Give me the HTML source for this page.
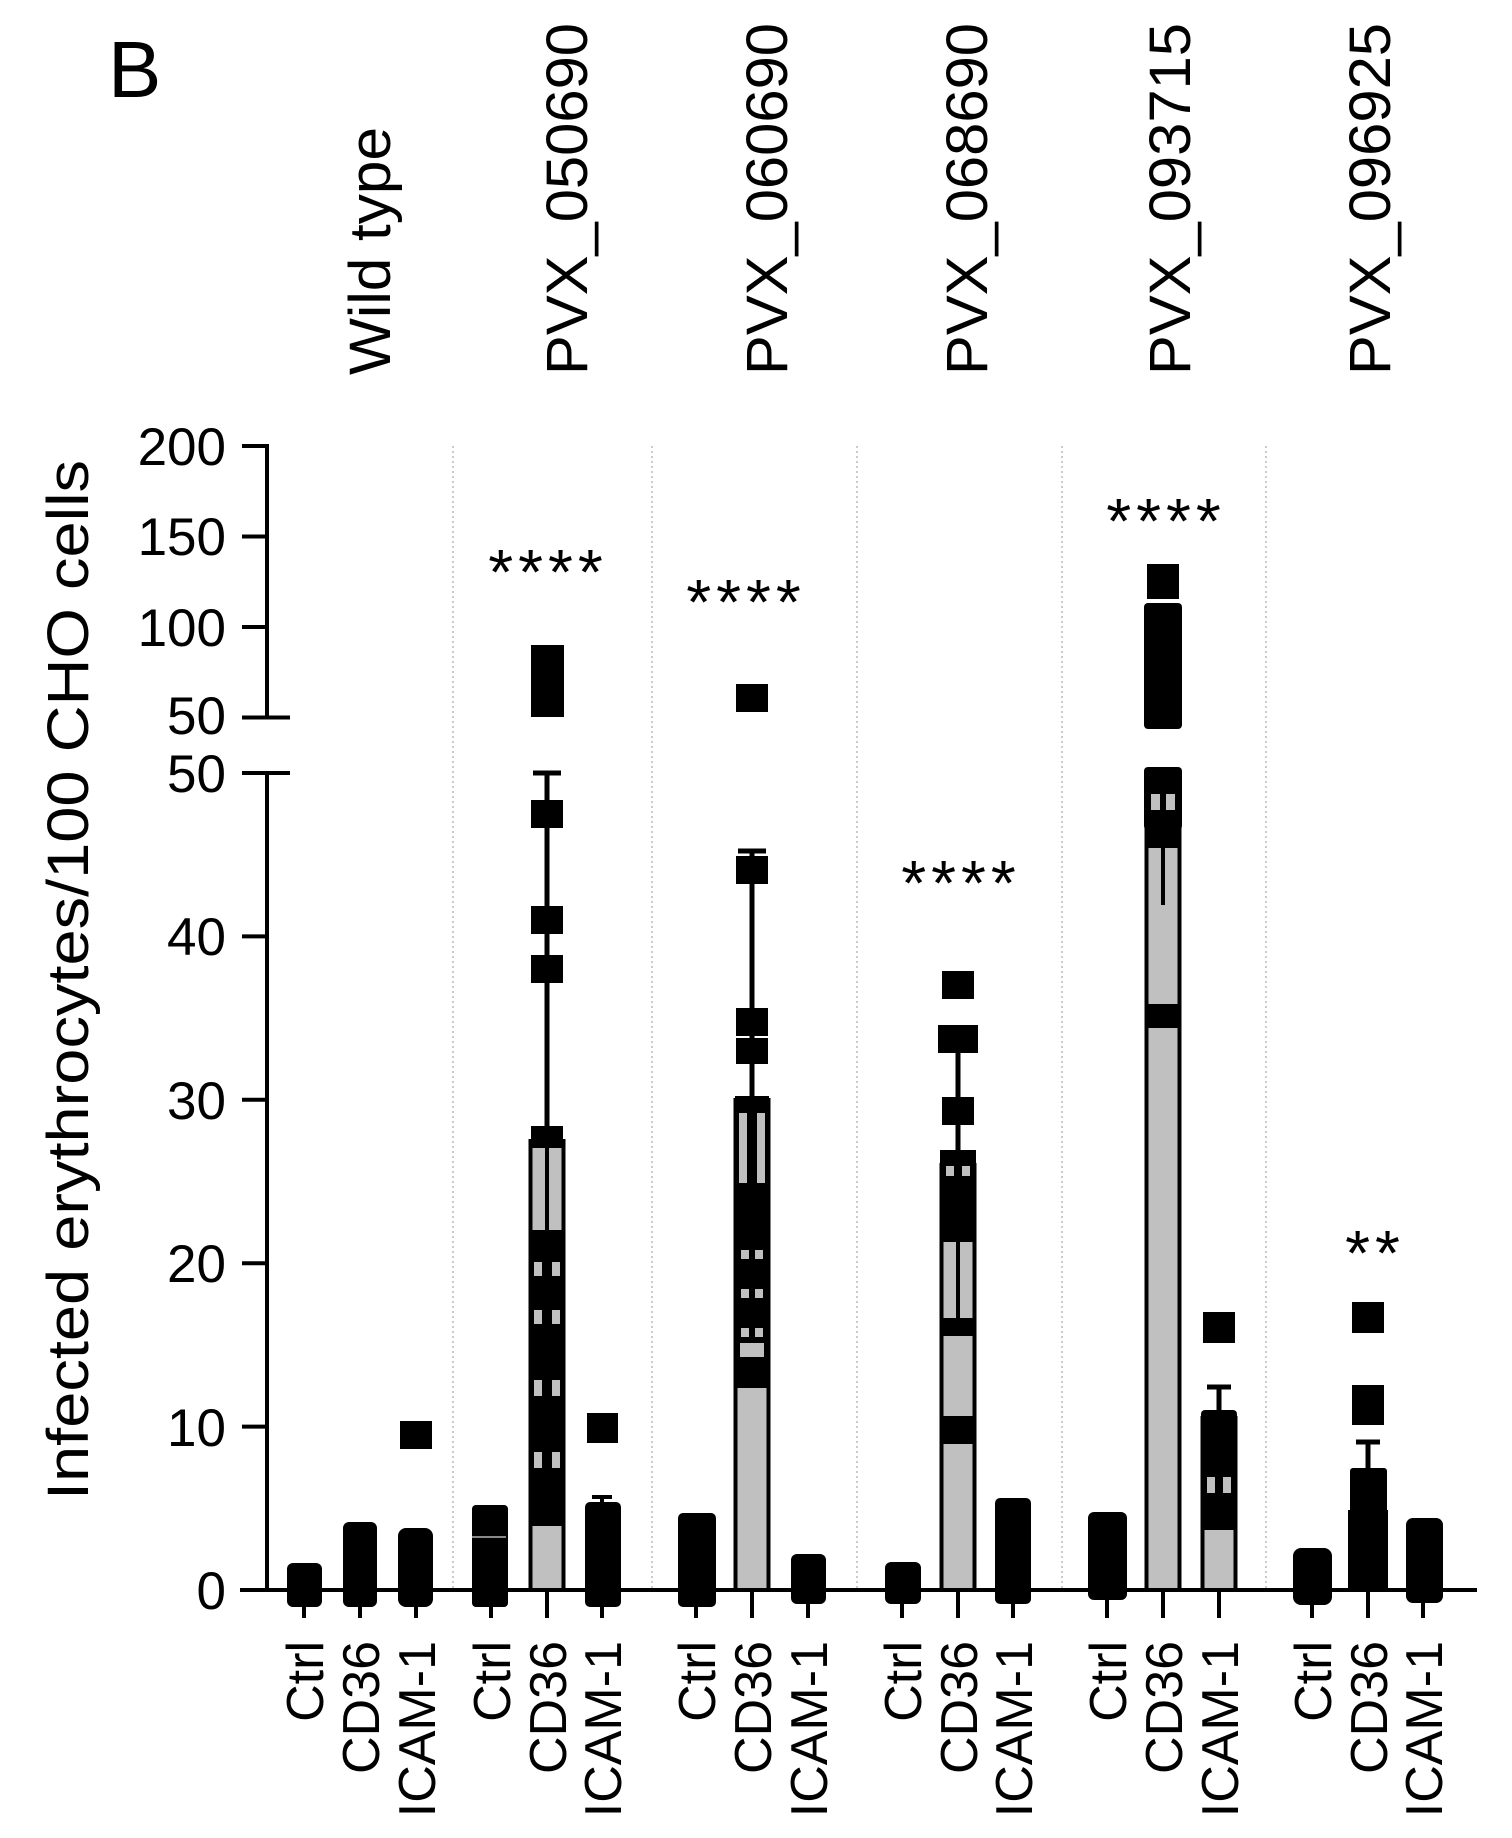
<!DOCTYPE html>
<html><head><meta charset="utf-8"><style>
html,body{margin:0;padding:0;background:#fff;}
svg{display:block;}
text{font-family:"Liberation Sans",Arial,sans-serif;fill:#000;}
</style></head><body>
<svg width="1512" height="1838" viewBox="0 0 1512 1838" xmlns="http://www.w3.org/2000/svg">
<text x="108" y="97" font-size="80">B</text>
<!-- top labels -->
<g font-size="58">
<text transform="translate(390,375) rotate(-90)" textLength="248" lengthAdjust="spacingAndGlyphs">Wild type</text>
<text transform="translate(587,375) rotate(-90)" textLength="352" lengthAdjust="spacingAndGlyphs">PVX_050690</text>
<text transform="translate(787,375) rotate(-90)" textLength="352" lengthAdjust="spacingAndGlyphs">PVX_060690</text>
<text transform="translate(987,375) rotate(-90)" textLength="352" lengthAdjust="spacingAndGlyphs">PVX_068690</text>
<text transform="translate(1190,375) rotate(-90)" textLength="352" lengthAdjust="spacingAndGlyphs">PVX_093715</text>
<text transform="translate(1390,375) rotate(-90)" textLength="352" lengthAdjust="spacingAndGlyphs">PVX_096925</text>
</g>
<!-- y title -->
<text transform="translate(88,1500) rotate(-90)" font-size="58" textLength="1040" lengthAdjust="spacingAndGlyphs">Infected erythrocytes/100 CHO cells</text>
<!-- dashed separators -->
<g stroke="#ccc" stroke-width="2" stroke-dasharray="2,3">
<line x1="453" y1="446" x2="453" y2="1588"/>
<line x1="652" y1="446" x2="652" y2="1588"/>
<line x1="857" y1="446" x2="857" y2="1588"/>
<line x1="1062" y1="446" x2="1062" y2="1588"/>
<line x1="1266" y1="446" x2="1266" y2="1588"/>
</g>
<!-- axes -->
<g stroke="#000" stroke-width="4" fill="none">
<line x1="267" y1="444" x2="267" y2="717.5"/>
<line x1="267" y1="773" x2="267" y2="1592"/>
<line x1="242" y1="446" x2="267" y2="446"/>
<line x1="242" y1="536.5" x2="267" y2="536.5"/>
<line x1="242" y1="627" x2="267" y2="627"/>
<line x1="242" y1="717.5" x2="290" y2="717.5"/>
<line x1="242" y1="773" x2="290" y2="773"/>
<line x1="242" y1="936.4" x2="267" y2="936.4"/>
<line x1="242" y1="1099.8" x2="267" y2="1099.8"/>
<line x1="242" y1="1263.2" x2="267" y2="1263.2"/>
<line x1="242" y1="1426.6" x2="267" y2="1426.6"/>
<line x1="240" y1="1590" x2="1477" y2="1590"/>
<g>
<line x1="304" y1="1590" x2="304" y2="1618"/><line x1="360" y1="1590" x2="360" y2="1618"/><line x1="416" y1="1590" x2="416" y2="1618"/>
<line x1="491" y1="1590" x2="491" y2="1618"/><line x1="547" y1="1590" x2="547" y2="1618"/><line x1="602" y1="1590" x2="602" y2="1618"/>
<line x1="696" y1="1590" x2="696" y2="1618"/><line x1="752" y1="1590" x2="752" y2="1618"/><line x1="808" y1="1590" x2="808" y2="1618"/>
<line x1="902" y1="1590" x2="902" y2="1618"/><line x1="958" y1="1590" x2="958" y2="1618"/><line x1="1013" y1="1590" x2="1013" y2="1618"/>
<line x1="1107" y1="1590" x2="1107" y2="1618"/><line x1="1163" y1="1590" x2="1163" y2="1618"/><line x1="1219" y1="1590" x2="1219" y2="1618"/>
<line x1="1312" y1="1590" x2="1312" y2="1618"/><line x1="1368" y1="1590" x2="1368" y2="1618"/><line x1="1423" y1="1590" x2="1423" y2="1618"/>
</g>
</g>
<!-- tick labels -->
<g font-size="53" text-anchor="end">
<text x="226" y="465">200</text><text x="226" y="555">150</text><text x="226" y="646">100</text>
<text x="226" y="734">50</text><text x="226" y="792">50</text>
<text x="226" y="955">40</text><text x="226" y="1119">30</text><text x="226" y="1282">20</text>
<text x="226" y="1446">10</text><text x="226" y="1609">0</text>
</g>
<!-- bottom labels -->
<g font-size="52" text-anchor="end">
<g id="bl">
<text transform="translate(323,1641) rotate(-90)">Ctrl</text>
<text transform="translate(379,1641) rotate(-90)">CD36</text>
<text transform="translate(435,1641) rotate(-90)">ICAM-1</text>
</g>
<text transform="translate(510,1641) rotate(-90)">Ctrl</text><text transform="translate(566,1641) rotate(-90)">CD36</text><text transform="translate(621,1641) rotate(-90)">ICAM-1</text>
<text transform="translate(715,1641) rotate(-90)">Ctrl</text><text transform="translate(771,1641) rotate(-90)">CD36</text><text transform="translate(827,1641) rotate(-90)">ICAM-1</text>
<text transform="translate(921,1641) rotate(-90)">Ctrl</text><text transform="translate(977,1641) rotate(-90)">CD36</text><text transform="translate(1032,1641) rotate(-90)">ICAM-1</text>
<text transform="translate(1126,1641) rotate(-90)">Ctrl</text><text transform="translate(1182,1641) rotate(-90)">CD36</text><text transform="translate(1238,1641) rotate(-90)">ICAM-1</text>
<text transform="translate(1331,1641) rotate(-90)">Ctrl</text><text transform="translate(1387,1641) rotate(-90)">CD36</text><text transform="translate(1442,1641) rotate(-90)">ICAM-1</text>
</g>
<!-- stars -->
<g font-size="64" text-anchor="middle" letter-spacing="5">
<text x="548" y="594">****</text>
<text x="746" y="624">****</text>
<text x="961" y="905">****</text>
<text x="1166" y="543">****</text>
<text x="1375" y="1275">**</text>
</g>
<!-- G1 -->
<g fill="#000">
<rect x="287" y="1563" width="35" height="44" rx="6"/>
<rect x="343" y="1522" width="34" height="85" rx="6"/>
<rect x="398" y="1528" width="35" height="79" rx="8"/>
<rect x="400" y="1421" width="32" height="28"/>
</g>
<!-- G2 -->
<g>
<rect x="472" y="1505" width="36" height="102" rx="4" fill="#000"/>
<line x1="472" y1="1537" x2="506" y2="1537" stroke="#888" stroke-width="2"/>
<line x1="547" y1="773" x2="547" y2="1141" stroke="#000" stroke-width="5"/>
<line x1="533" y1="773" x2="561" y2="773" stroke="#000" stroke-width="5"/>
<rect x="530.5" y="1141" width="33" height="449" fill="#c0c0c0" stroke="#000" stroke-width="4"/>
<rect x="531" y="1126" width="32" height="22" fill="#000"/>
<line x1="547" y1="1148" x2="547" y2="1232" stroke="#000" stroke-width="4"/>
<rect x="529" y="1230" width="36" height="296" fill="#000"/>
<g fill="#c0c0c0">
<rect x="534" y="1262" width="8" height="14"/><rect x="552" y="1262" width="8" height="14"/>
<rect x="534" y="1310" width="8" height="14"/><rect x="552" y="1310" width="8" height="14"/>
<rect x="534" y="1380" width="8" height="16"/><rect x="552" y="1380" width="8" height="16"/>
<rect x="534" y="1452" width="8" height="16"/><rect x="552" y="1452" width="8" height="16"/>
</g>
<rect x="531" y="645" width="33" height="72" fill="#000"/>
<rect x="531" y="800" width="32" height="28" fill="#000"/>
<rect x="531" y="906" width="32" height="28" fill="#000"/>
<rect x="531" y="955" width="32" height="28" fill="#000"/>
<line x1="602" y1="1497" x2="602" y2="1541" stroke="#000" stroke-width="4"/>
<line x1="592" y1="1497" x2="612" y2="1497" stroke="#000" stroke-width="4"/>
<rect x="585" y="1502" width="36" height="105" rx="5" fill="#000"/>
<rect x="587" y="1413" width="31" height="30" fill="#000"/>
</g>
<!-- G3 -->
<g>
<rect x="678" y="1513" width="38" height="94" rx="5" fill="#000"/>
<line x1="752" y1="851" x2="752" y2="1100" stroke="#000" stroke-width="5"/>
<line x1="738" y1="851" x2="766" y2="851" stroke="#000" stroke-width="5"/>
<rect x="735.5" y="1100" width="33" height="490" fill="#c0c0c0" stroke="#000" stroke-width="4"/>
<rect x="736" y="684" width="32" height="28" fill="#000"/>
<rect x="736" y="856" width="32" height="28" fill="#000"/>
<rect x="736" y="1008" width="32" height="28" fill="#000"/>
<rect x="736" y="1038" width="32" height="26" fill="#000"/>
<rect x="735" y="1096" width="34" height="292" fill="#000"/>
<g fill="#c0c0c0">
<rect x="739" y="1113" width="8" height="70"/><rect x="757" y="1113" width="8" height="70"/>
<rect x="741" y="1250" width="8" height="9"/><rect x="755" y="1250" width="8" height="9"/>
<rect x="741" y="1289" width="8" height="9"/><rect x="755" y="1289" width="8" height="9"/>
<rect x="741" y="1328" width="8" height="9"/><rect x="755" y="1328" width="8" height="9"/>
<rect x="740" y="1343" width="24" height="14"/>
</g>
<rect x="791" y="1554" width="35" height="50" rx="6" fill="#000"/>
</g>
<!-- G4 -->
<g>
<rect x="885" y="1562" width="36" height="42" rx="6" fill="#000"/>
<line x1="958" y1="1050" x2="958" y2="1165" stroke="#000" stroke-width="5"/>
<line x1="944" y1="1050" x2="972" y2="1050" stroke="#000" stroke-width="5"/>
<rect x="941.5" y="1165" width="33" height="425" fill="#c0c0c0" stroke="#000" stroke-width="4"/>
<rect x="942" y="971" width="32" height="28" fill="#000"/>
<rect x="938" y="1025" width="40" height="28" fill="#000"/>
<rect x="942" y="1097" width="32" height="28" fill="#000"/>
<rect x="940" y="1150" width="36" height="92" fill="#000"/>
<rect x="940" y="1318" width="36" height="18" fill="#000"/>
<rect x="940" y="1416" width="36" height="28" fill="#000"/>
<g fill="#c0c0c0"><rect x="946" y="1166" width="8" height="10"/><rect x="962" y="1166" width="8" height="10"/></g>
<line x1="958" y1="1242" x2="958" y2="1318" stroke="#000" stroke-width="4"/>
<rect x="995" y="1498" width="36" height="106" rx="5" fill="#000"/>
</g>
<!-- G5 -->
<g>
<rect x="1088" y="1512" width="39" height="88" rx="6" fill="#000"/>
<rect x="1146.5" y="771" width="33" height="819" fill="#c0c0c0" stroke="#000" stroke-width="4"/>
<rect x="1147" y="564" width="32" height="35" fill="#000"/>
<rect x="1144" y="603" width="38" height="126" rx="4" fill="#000"/>
<rect x="1144" y="767" width="38" height="63" rx="4" fill="#000"/>
<g fill="#c0c0c0"><rect x="1151" y="794" width="9" height="16"/><rect x="1166" y="794" width="9" height="16"/></g>
<rect x="1146" y="830" width="34" height="18" fill="#000"/>
<line x1="1163" y1="848" x2="1163" y2="905" stroke="#000" stroke-width="4"/>
<rect x="1146" y="1004" width="34" height="24" fill="#000"/>
<line x1="1219" y1="1387" x2="1219" y2="1418" stroke="#000" stroke-width="5"/>
<line x1="1207" y1="1387" x2="1231" y2="1387" stroke="#000" stroke-width="5"/>
<rect x="1202.5" y="1418" width="33" height="172" fill="#c0c0c0" stroke="#000" stroke-width="4"/>
<rect x="1201" y="1410" width="36" height="120" rx="4" fill="#000"/>
<g fill="#c0c0c0"><rect x="1207" y="1477" width="8" height="16"/><rect x="1223" y="1477" width="8" height="16"/></g>
<rect x="1203" y="1312" width="32" height="31" fill="#000"/>
</g>
<!-- G6 -->
<g fill="#000">
<rect x="1293" y="1548" width="39" height="57" rx="8"/>
<rect x="1352" y="1302" width="32" height="31"/>
<rect x="1352" y="1385" width="32" height="40"/>
<line x1="1368" y1="1442" x2="1368" y2="1476" stroke="#000" stroke-width="5"/>
<line x1="1356" y1="1442" x2="1380" y2="1442" stroke="#000" stroke-width="5"/>
<rect x="1350" y="1468" width="37" height="122" rx="3"/>
<rect x="1348" y="1510" width="40" height="82"/>
<rect x="1406" y="1518" width="37" height="85" rx="7"/>
</g>
</svg>
</body></html>
